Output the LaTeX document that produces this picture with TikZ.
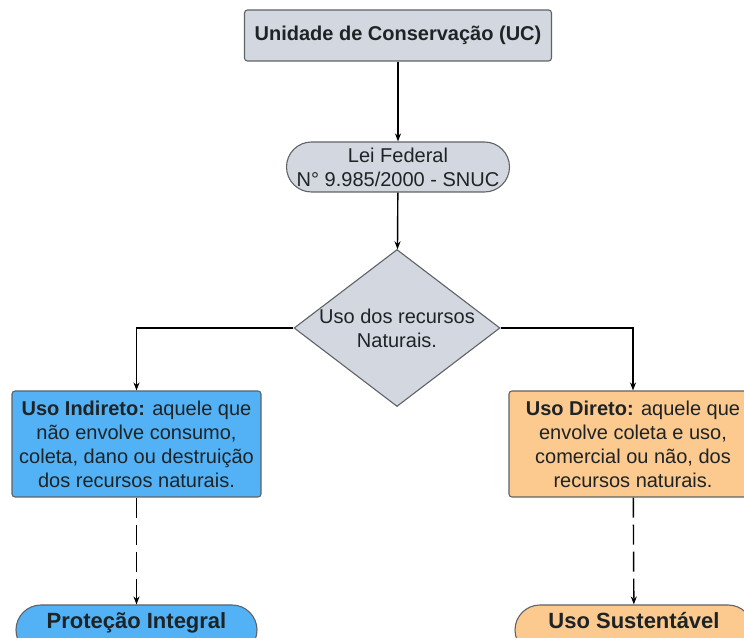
\documentclass[tikz,border=0pt]{standalone}
\usepackage{fontspec}
\setmainfont{Liberation Sans}
\usepackage{xcolor}
\usetikzlibrary{shapes.geometric,arrows.meta}
\definecolor{UCGray}{HTML}{D3D8E0}
\definecolor{UCBlue}{HTML}{52B2F5}
\definecolor{UCOrange}{HTML}{FCC98E}
\definecolor{UCEdge}{HTML}{5F6266}
\definecolor{UCInk}{HTML}{1E2326}

\tikzset{
  ucbox/.style={draw=UCEdge,line width=1.1pt,rounded corners=3pt,align=center,inner sep=2pt,
    text=UCInk,font=\fontsize{20}{24}\selectfont},
  ucpill/.style={ucbox,rounded corners=25pt,minimum height=50pt},
  ucflow/.style={line width=1.4pt,-{Stealth[length=8pt,width=6pt]}},
}

\begin{document}
\begin{tikzpicture}[x=1pt,y=1pt]
\path[use as bounding box] (0,0) rectangle (744,637);
\clip (0,0) rectangle (744,637);
\node[ucbox,fill=UCGray,minimum width=307pt,minimum height=51pt,font=\fontsize{20}{24}\selectfont\bfseries] (uc) at (398,601.5) {Unidade de Conservação (UC)};
\node[ucpill,fill=UCGray,minimum width=223pt] (lei) at (398,470) {Lei Federal\\N° 9.985/2000 - SNUC};
\node[ucbox,diamond,rounded corners=0pt,fill=UCGray,aspect=1.31,inner sep=-2pt,minimum width=206pt,minimum height=157pt] (usos) at (397,309) {Uso dos recursos\\Naturais.};
\node[ucbox,fill=UCBlue,minimum width=249pt,minimum height=106pt] (ind) at (136.5,193) {\textbf{Uso Indireto:} aquele que\\não envolve consumo,\\coleta, dano ou destruição\\dos recursos naturais.};
\node[ucbox,fill=UCOrange,minimum width=248pt,minimum height=106pt] (dir) at (633,193) {\textbf{Uso Direto:} aquele que\\envolve coleta e uso,\\comercial ou não, dos\\recursos naturais.};
\node[ucpill,fill=UCBlue,minimum width=241pt,text height=16pt,text depth=20pt,font=\fontsize{22}{26}\selectfont\bfseries] (pi) at (136.5,7) {Proteção Integral};
\node[ucpill,fill=UCOrange,minimum width=238pt,text height=16pt,text depth=20pt,font=\fontsize{22}{26}\selectfont\bfseries] (us) at (634,7) {Uso Sustentável};
% ligacoes
\draw[ucflow] (uc) -- (lei);
\draw[ucflow] (lei) -- (usos);
\draw[ucflow] (usos.west) -| (ind);
\draw[ucflow] (usos.east) -| (dir);
\draw[ucflow,dash pattern=on 20pt off 7pt] (ind) -- (pi);
\draw[ucflow,dash pattern=on 20pt off 7pt] (dir) -- (us);
\end{tikzpicture}
\end{document}
